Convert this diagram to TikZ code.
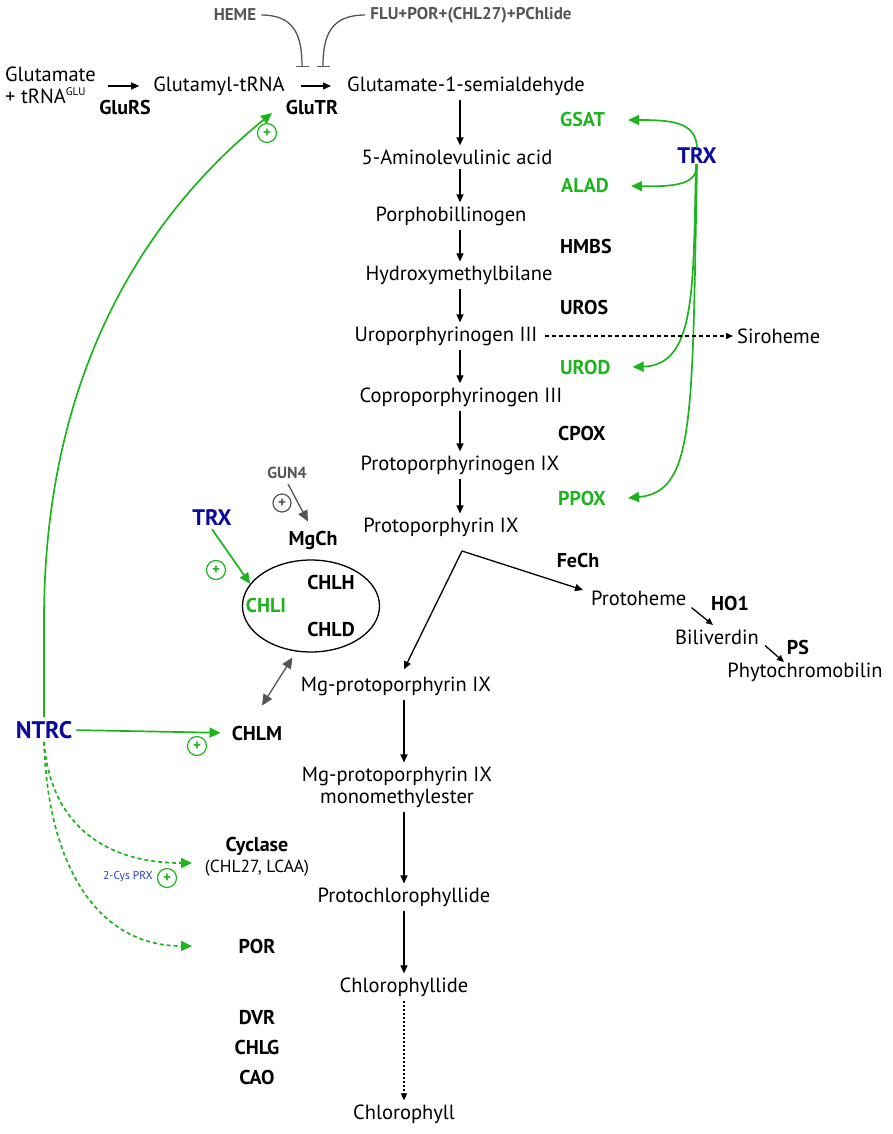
\documentclass[tikz,border=0pt]{standalone}
\usepackage{fontspec}
\setmainfont{PT Sans}
\usetikzlibrary{arrows.meta,shapes.geometric}
\definecolor{pgreen}{RGB}{30,180,30}
\definecolor{pblue}{RGB}{10,10,160}
\definecolor{pgray}{RGB}{85,85,85}
\definecolor{lblue}{RGB}{40,60,210}
\begin{document}
\begin{tikzpicture}[x=1pt,y=-1pt,
 met/.style={font=\fontsize{20.5}{22}\selectfont, inner xsep=0pt, inner ysep=4pt, align=center},
 enz/.style={font=\fontsize{20}{22}\selectfont\bfseries, inner sep=0pt},
 genz/.style={enz, text=pgreen},
 reg/.style={font=\fontsize{22.5}{24}\selectfont\bfseries, text=pblue, inner sep=0pt},
 inh/.style={font=\fontsize{17}{19}\selectfont\bfseries, text=pgray, inner sep=0pt},
 arr/.style={draw=black, line width=1.3pt, -{Triangle[length=8pt,width=7pt]}},
 sarr/.style={draw=black, line width=1.3pt, -{Triangle[length=7pt,width=6pt]}},
 garr/.style={draw=pgreen, line width=1.7pt, -{Triangle[length=11pt,width=10pt]}},
 gdash/.style={garr, dash pattern=on 4pt off 3pt},
 inhl/.style={draw=pgray, line width=1.3pt, -{Bar[width=13pt,line width=1.4pt]}},
 gyarr/.style={draw=pgray, line width=1.3pt, -{Triangle[length=11pt,width=10pt]}},
 dblarr/.style={draw=pgray, line width=1.3pt, {Triangle[length=11pt,width=10pt]}-{Triangle[length=11pt,width=10pt]}},
 plus/.style={circle, draw=pgreen, text=pgreen, line width=1.2pt, minimum size=19pt, inner sep=0pt, font=\fontsize{15}{15}\selectfont\bfseries},
]
\useasboundingbox (0,0) rectangle (892,1134);
\coordinate (c1) at (460,0);
\coordinate (c2) at (404,0);

% top row
\node[met, align=left, anchor=west, inner ysep=0pt] (glu) at (5,85) {Glutamate\\+ tRNA\textsuperscript{\fontsize{11}{11}\selectfont GLU}};
\node[enz] (glurs) at (125,108) {GluRS};
\node[met] (gtrna) at (219,86) {Glutamyl-tRNA};
\node[enz] (glutr) at (312,108) {GluTR};
\node[met] (gsa) at (466,86) {Glutamate-1-semialdehyde};
\draw[arr, shorten <=12pt, shorten >=14pt] (glu.east |- gtrna.west) -- (gtrna.west);
\draw[arr, shorten <=16pt, shorten >=16pt] (gtrna.east) -- (gsa.west);

% inhibitors
\node[inh] (heme) at (235,15) {HEME};
\node[inh] (flu) at (471,15) {FLU+POR+(CHL27)+PChlide};
\coordinate (hemeT) at (302,67);
\coordinate (fluT) at (323,67);
\draw[inhl] ([xshift=5pt]heme.east) .. controls (294,15) and (302,35) .. (hemeT);
\draw[inhl] ([xshift=-5pt]flu.west) .. controls (331,15) and (323,35) .. (fluT);

% main column
\node[met] (ala) at (457,157) {5-Aminolevulinic acid};
\node[met] (pbg) at (451,216) {Porphobillinogen};
\node[met] (hmb) at (459,275) {Hydroxymethylbilane};
\node[met] (uro) at (446,336) {Uroporphyrinogen III};
\node[met] (copro) at (461,397) {Coproporphyrinogen III};
\node[met] (protogen) at (460,465) {Protoporphyrinogen IX};
\node[met] (pp) at (441,527) {Protoporphyrin IX};
\draw[arr] (gsa.south -| c1) -- (ala.north -| c1);
\draw[arr] (ala.south -| c1) -- (pbg.north -| c1);
\draw[arr] (pbg.south -| c1) -- (hmb.north -| c1);
\draw[arr] (hmb.south -| c1) -- (uro.north -| c1);
\draw[arr] (uro.south -| c1) -- (copro.north -| c1);
\draw[arr] (copro.south -| c1) -- (protogen.north -| c1);
\draw[arr] (protogen.south -| c1) -- (pp.north -| c1);

% enzymes
\node[genz, anchor=west] (gsat) at (560,120) {GSAT};
\node[genz, anchor=west] (alad) at (561,186) {ALAD};
\node[enz, anchor=west] (hmbs) at (560,246) {HMBS};
\node[enz, anchor=west] (uros) at (560,307) {UROS};
\node[genz, anchor=west] (urod) at (560,367) {UROD};
\node[enz, anchor=west] (cpox) at (558,433) {CPOX};
\node[genz, anchor=west] (ppox) at (558,498) {PPOX};

% TRX right
\node[reg] (trx1) at (697,156) {TRX};
\draw[garr] (trx1.north) .. controls (696,122) and (672,120) .. ([xshift=23pt]gsat.east);
\draw[garr] (trx1.south) .. controls (697,183) and (680,187) .. ([xshift=22pt]alad.east);
\draw[garr] ([xshift=-1pt]trx1.south) .. controls (693,290) and (696,365) .. ([xshift=22pt]urod.east);
\draw[garr] (trx1.south) .. controls (692,420) and (695,492) .. ([xshift=22pt]ppox.east);

% siroheme
\node[met, anchor=west] (siro) at (737,336) {Siroheme};
\draw[sarr, dash pattern=on 4pt off 3pt] ([xshift=7pt]uro.east) -- ([xshift=-4pt]siro.west);

% branch
\coordinate (br) at (462,551);
\node[enz] (fech) at (578,560) {FeCh};
\node[met, anchor=west] (proth) at (591,598) {Protoheme};
\node[enz] (ho1) at (730,603) {HO1};
\node[met] (bili) at (717,637) {Biliverdin};
\node[enz] (ps) at (798,647) {PS};
\node[met] (phyto) at (805,672) {Phytochromobilin};
\node[met] (mgp) at (396,686) {Mg-protoporphyrin IX};
\coordinate (hotip) at (713,625);
\coordinate (pstip) at (784,662);
\draw[arr] (br) -- ([xshift=-8pt,yshift=8pt]proth.west);
\draw[arr] (br) -- ([xshift=8pt,yshift=3pt]mgp.north);
\draw[sarr] ([xshift=5pt,yshift=2pt]proth.south east) -- (hotip);
\draw[sarr] ([xshift=6pt,yshift=3pt]bili.south east) -- (pstip);

% lower column
\node[met] (mgpme) at (397,787) {Mg-protoporphyrin IX\\monomethylester};
\node[met] (pchl) at (404,897) {Protochlorophyllide};
\node[met] (chlide) at (404,987) {Chlorophyllide};
\node[met] (chl) at (404,1114) {Chlorophyll};
\draw[arr] (mgp.south -| c2) -- (mgpme.north -| c2);
\draw[arr] (mgpme.south -| c2) -- (pchl.north -| c2);
\draw[arr] (pchl.south -| c2) -- (chlide.north -| c2);
\draw[sarr, dash pattern=on 2pt off 2pt] (chlide.south -| c2) -- (chl.north -| c2);

% MgCh complex
\node[ellipse, draw, line width=1.3pt, minimum width=137pt, minimum height=92pt] (ell) at (311,606) {};
\node[enz] (mgch) at (313,540) {MgCh};
\node[enz] (chlh) at (331,582) {CHLH};
\node[genz] (chli) at (266,605) {CHLI};
\node[enz] (chld) at (331,629) {CHLD};
\node[inh, font=\fontsize{16}{18}\selectfont\bfseries] (gun4) at (287,473) {GUN4};
\node[plus, draw=pgray, text=pgray, minimum size=18pt] (pg) at (282,503) {+};
\draw[gyarr] ([xshift=1pt,yshift=-5pt]gun4.south) -- ([xshift=-5pt,yshift=9pt]mgch.north);
\node[reg] (trx2) at (212,518) {TRX};
\draw[garr] ([yshift=-3pt]trx2.south) -- (ell.160);
\node[plus] (p3) at (216,570) {+};
\node[enz] (chlm) at (257,733) {CHLM};
\draw[dblarr, shorten <=7pt] (ell.252) -- ([xshift=5pt,yshift=20pt]chlm.north);

% NTRC
\node[reg, font=\fontsize{24}{26}\selectfont\bfseries] (ntrc) at (44,730) {NTRC};
\draw[garr, shorten <=4pt, shorten >=11pt] (ntrc.east) -- (chlm.west);
\node[plus] (p4) at (197,746) {+};
\draw[garr] ([yshift=4pt]ntrc.north) -- (44,620) .. controls (44,380) and (140,220) .. ([xshift=-40pt,yshift=-5pt]glutr.center);
\node[plus] (p1) at (267,133) {+};

\node[enz] (cyc) at (257,846) {Cyclase};
\node[font=\fontsize{17.5}{19}\selectfont, inner sep=0pt] (cycsub) at (257,868) {(CHL27, LCAA)};
\coordinate (cyctip) at (192,863);
\node[enz] (por) at (257,946) {POR};
\coordinate (portip) at (192,946);
\draw[gdash] ([yshift=-3pt]ntrc.south) .. controls (50,820) and (100,863) .. (cyctip);
\draw[gdash] ([yshift=-3pt]ntrc.south) .. controls (48,870) and (100,946) .. (portip);
\node[font=\fontsize{11.5}{12}\selectfont, text=lblue, inner sep=0pt] (prx) at (128,877) {2-Cys PRX};
\node[plus] (p5) at (167,878) {+};

\node[enz] (dvr) at (257,1017) {DVR};
\node[enz] (chlg) at (257,1047) {CHLG};
\node[enz] (cao) at (257,1077) {CAO};
\end{tikzpicture}
\end{document}
